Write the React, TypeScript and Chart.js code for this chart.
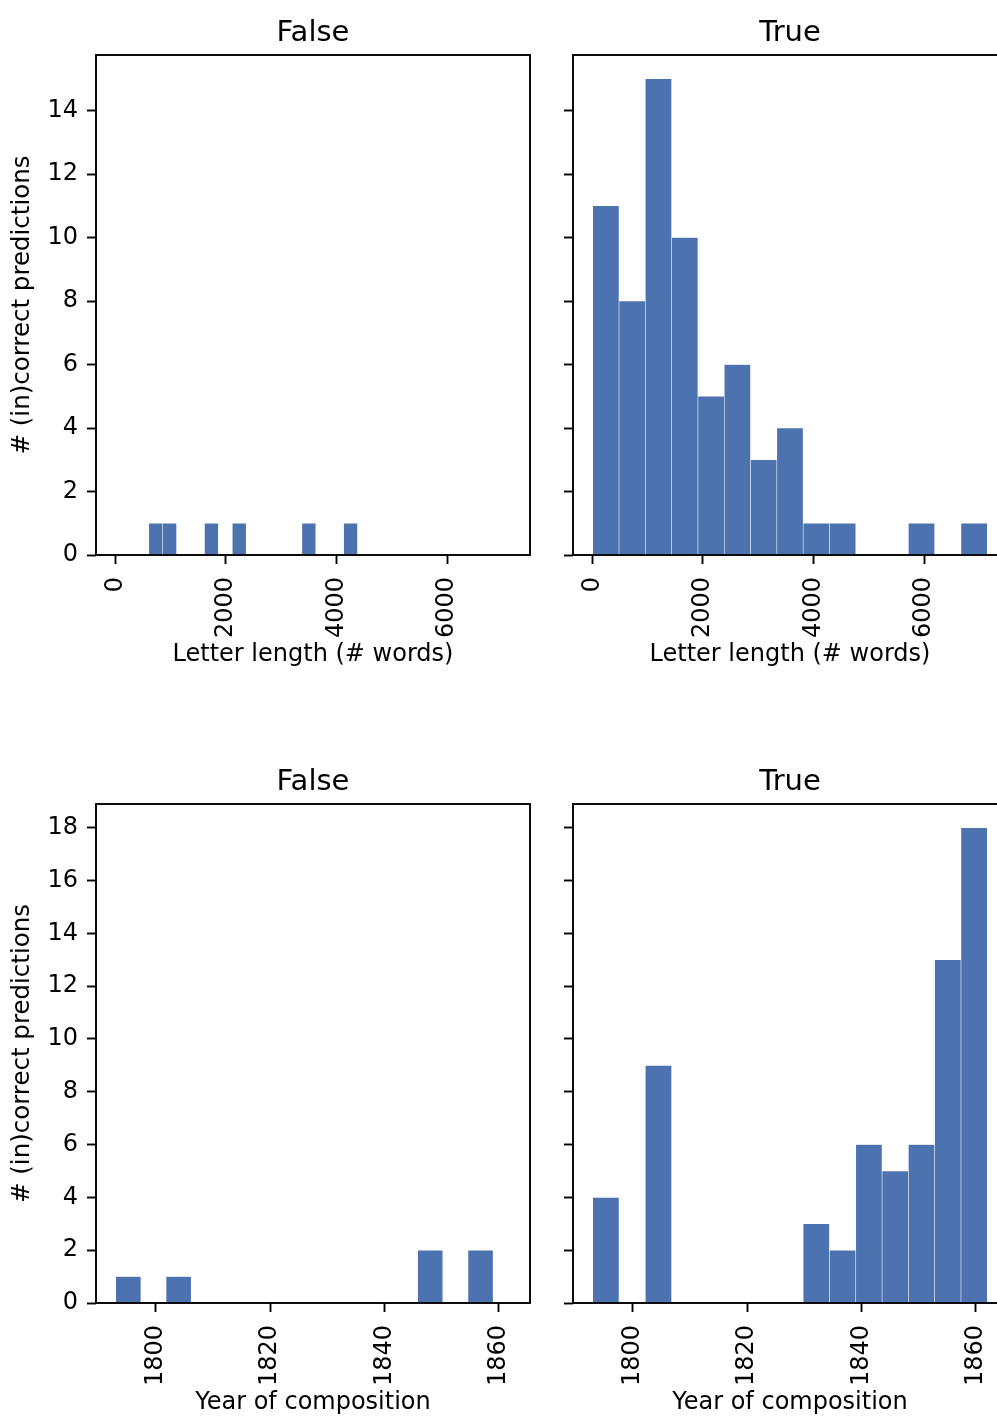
import React, { useEffect, useRef } from 'react';
import { Chart, registerables } from 'chart.js';

Chart.register(...registerables);

// ---------- data ----------
const facetTitles = ['False', 'True'];
const yAxisTitle = '# (in)correct predictions';
const lengthAxisTitle = 'Letter length (# words)';
const yearAxisTitle = 'Year of composition';

// histogram counts (15 bins each) and the data range the bins span
const lengthFalseCounts = [1, 1, 0, 0, 1, 0, 1, 0, 0, 0, 0, 1, 0, 0, 1];
const lengthFalseRange: [number, number] = [603, 4381];
const lengthTrueCounts = [11, 8, 15, 10, 5, 6, 3, 4, 1, 1, 0, 0, 1, 0, 1];
const lengthTrueRange: [number, number] = [5, 7145];

const yearFalseCounts = [1, 0, 1, 0, 0, 0, 0, 0, 0, 0, 0, 0, 2, 0, 2];
const yearFalseRange: [number, number] = [1793, 1859];
const yearTrueCounts = [4, 0, 9, 0, 0, 0, 0, 0, 3, 2, 6, 5, 6, 13, 18];
const yearTrueRange: [number, number] = [1793, 1862];

const lengthTicks = [0, 2000, 4000, 6000];
const yearTicks = [1800, 1820, 1840, 1860];
const countTicksTop = [0, 2, 4, 6, 8, 10, 12, 14];
const countTicksBottom = [0, 2, 4, 6, 8, 10, 12, 14, 16, 18];

// ---------- style ----------
const FONT = 'DejaVu Sans';
const BAR = '#4C72B0';
const EDGE = 'rgba(255,255,255,0.22)';
const LINE_W = 1.9;

const panelPlugin = {
  id: 'panelFrame',
  afterDraw(chart: any, _args: any, opts: any) {
    const { ctx, chartArea } = chart;
    const { left, right, top, bottom } = chartArea;
    ctx.save();
    ctx.strokeStyle = '#000';
    ctx.lineWidth = LINE_W;
    ctx.strokeRect(left, top, right - left, bottom - top);
    if (opts && opts.title) {
      ctx.fillStyle = '#000';
      ctx.font = `29px "${FONT}"`;
      ctx.textAlign = 'center';
      ctx.textBaseline = 'alphabetic';
      ctx.fillText(opts.title, (left + right) / 2, top - 14.4);
    }
    ctx.restore();
  },
};

function lim(a: [number, number], b: [number, number]): [number, number] {
  const lo = Math.min(a[0], b[0]);
  const hi = Math.max(a[1], b[1]);
  const m = (hi - lo) * 0.05;
  return [lo - m, hi + m];
}

type PanelProps = {
  counts: number[];
  range: [number, number];
  xlim: [number, number];
  ymax: number;
  xTicks: number[];
  yTicks: number[];
  title: string;
  xTitle: string;
  showYLabels: boolean;
  left: number;
  top: number;
  width: number;
  height: number;
  padTop: number;
  yWidth: number;
};

function Panel(p: PanelProps) {
  const ref = useRef<HTMLCanvasElement>(null);
  useEffect(() => {
    const n = p.counts.length;
    const bw = (p.range[1] - p.range[0]) / n;
    const data = p.counts.map((c, i) => ({ x: p.range[0] + (i + 0.5) * bw, y: c }));
    const tickFont = { family: FONT, size: 24 };
    const plain = (v: any) => String(v);
    const chart = new Chart(ref.current as HTMLCanvasElement, {
      type: 'bar',
      data: {
        datasets: [
          {
            data: data as any,
            backgroundColor: BAR,
            borderColor: EDGE,
            borderWidth: (c: any) => (c.raw && c.raw.y > 0 ? 0.6 : 0),
            barPercentage: 1,
            categoryPercentage: 1,
          } as any,
        ],
      },
      options: {
        responsive: false,
        maintainAspectRatio: false,
        animation: false,
        layout: { padding: { left: 0, right: 15, top: p.padTop, bottom: 0 } },
        plugins: {
          legend: { display: false },
          tooltip: { enabled: false },
          panelFrame: { title: p.title },
        } as any,
        scales: {
          x: {
            type: 'linear',
            min: p.xlim[0],
            max: p.xlim[1],
            offset: false,
            grid: {
              offset: false,
              drawOnChartArea: false,
              drawTicks: true,
              tickLength: 9,
              tickWidth: LINE_W,
              tickColor: '#000',
            },
            border: { display: false },
            ticks: {
              minRotation: 90,
              maxRotation: 90,
              autoSkip: false,
              padding: 13,
              font: tickFont,
              color: '#000',
              callback: plain,
            },
            afterBuildTicks: (s: any) => {
              s.ticks = p.xTicks.map((v) => ({ value: v }));
            },
            afterFit: (s: any) => {
              s.height = 113;
            },
            title: {
              display: true,
              text: p.xTitle,
              color: '#000',
              font: { family: FONT, size: 24, lineHeight: 1.1 },
              padding: 0,
            },
          } as any,
          y: {
            type: 'linear',
            min: 0,
            max: p.ymax,
            grid: {
              drawOnChartArea: false,
              drawTicks: true,
              tickLength: 9,
              tickWidth: LINE_W,
              tickColor: '#000',
            },
            border: { display: false },
            ticks: {
              display: p.showYLabels,
              padding: 9,
              font: tickFont,
              color: '#000',
              callback: plain,
            },
            afterBuildTicks: (s: any) => {
              s.ticks = p.yTicks.map((v) => ({ value: v }));
            },
            afterFit: (s: any) => {
              s.width = p.yWidth;
            },
            title: {
              display: p.showYLabels,
              text: yAxisTitle,
              color: '#000',
              font: { family: FONT, size: 24.5, lineHeight: 1.1 },
              padding: { top: 8.8, bottom: 0 },
            },
          } as any,
        },
      },
      plugins: [panelPlugin],
    });
    return () => chart.destroy();
  }, []);
  return (
    <canvas
      ref={ref}
      width={p.width}
      height={p.height}
      style={{ position: 'absolute', left: p.left, top: p.top, width: p.width, height: p.height }}
    />
  );
}

export default function App() {
  const lengthLim = lim(lengthFalseRange, lengthTrueRange);
  const yearLim = lim(yearFalseRange, yearTrueRange);
  const topMax = Math.max(...lengthFalseCounts, ...lengthTrueCounts) * 1.05;
  const botMax = Math.max(...yearFalseCounts, ...yearTrueCounts) * 1.05;
  const leftCol = { left: 0, width: 545, yWidth: 96, showYLabels: true };
  const rightCol = { left: 545, width: 477, yWidth: 28, showYLabels: false };
  const topRow = { top: 0, height: 668, padTop: 55 };
  const botRow = { top: 700, height: 716, padTop: 104 };
  return (
    <div
      style={{
        position: 'absolute',
        left: 0,
        top: 0,
        width: 997,
        height: 1416,
        overflow: 'hidden',
        background: '#fff',
      }}
    >
      <Panel
        {...leftCol}
        {...topRow}
        counts={lengthFalseCounts}
        range={lengthFalseRange}
        xlim={lengthLim}
        ymax={topMax}
        xTicks={lengthTicks}
        yTicks={countTicksTop}
        title={facetTitles[0]}
        xTitle={lengthAxisTitle}
      />
      <Panel
        {...rightCol}
        {...topRow}
        counts={lengthTrueCounts}
        range={lengthTrueRange}
        xlim={lengthLim}
        ymax={topMax}
        xTicks={lengthTicks}
        yTicks={countTicksTop}
        title={facetTitles[1]}
        xTitle={lengthAxisTitle}
      />
      <Panel
        {...leftCol}
        {...botRow}
        counts={yearFalseCounts}
        range={yearFalseRange}
        xlim={yearLim}
        ymax={botMax}
        xTicks={yearTicks}
        yTicks={countTicksBottom}
        title={facetTitles[0]}
        xTitle={yearAxisTitle}
      />
      <Panel
        {...rightCol}
        {...botRow}
        counts={yearTrueCounts}
        range={yearTrueRange}
        xlim={yearLim}
        ymax={botMax}
        xTicks={yearTicks}
        yTicks={countTicksBottom}
        title={facetTitles[1]}
        xTitle={yearAxisTitle}
      />
    </div>
  );
}
